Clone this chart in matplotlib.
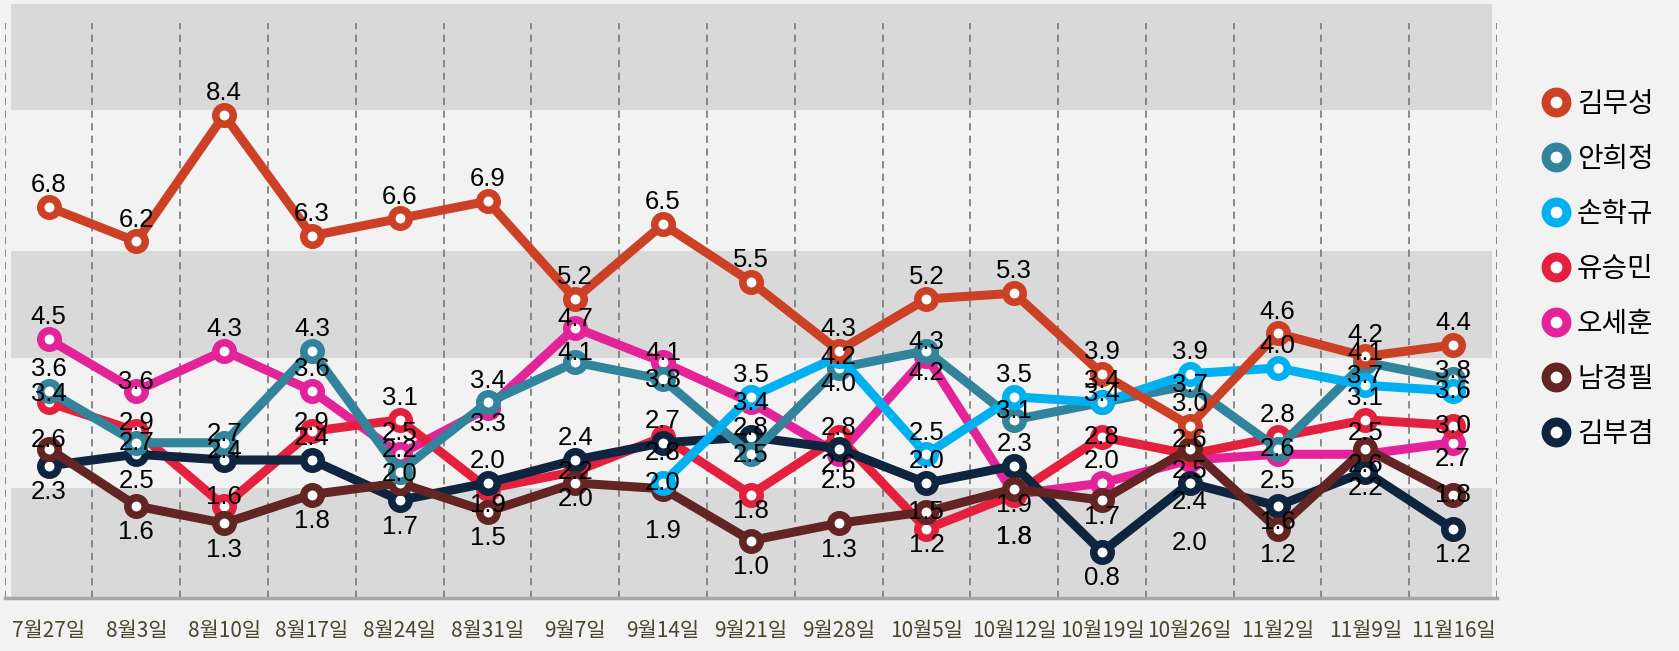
import matplotlib
matplotlib.use('Agg')
import matplotlib.pyplot as plt
from matplotlib.lines import Line2D
import numpy as np

plt.rcParams['font.family'] = ['Noto Sans CJK KR', 'DejaVu Sans']

dates = ['7월27일', '8월3일', '8월10일', '8월17일', '8월24일', '8월31일', '9월7일',
         '9월14일', '9월21일', '9월28일', '10월5일', '10월12일', '10월19일',
         '10월26일', '11월2일', '11월9일', '11월16일']

names = ['김무성', '안희정', '손학규', '유승민', '오세훈', '남경필', '김부겸']

kim_musung = [6.8, 6.2, 8.4, 6.3, 6.6, 6.9, 5.2, 6.5, 5.5, 4.3, 5.2, 5.3, 3.9, 3.0, 4.6, 4.2, 4.4]
ahn_heejung = [3.6, 2.7, 2.7, 4.3, 2.2, 3.4, 4.1, 3.8, 2.5, 4.0, 4.3, 3.1, 3.4, 3.7, 2.6, 4.1, 3.8]
son_hakkyu = [None, None, None, None, None, None, None, 2.0, 3.5, 4.2, 2.5, 3.5, 3.4, 3.9, 4.0, 3.7, 3.6]
yoo_seungmin = [3.4, 2.9, 1.6, 2.9, 3.1, 1.9, 2.2, 2.8, 1.8, 2.8, 1.2, 1.8, 2.8, 2.5, 2.8, 3.1, 3.0]
oh_sehoon = [4.5, 3.6, 4.3, 3.6, 2.5, 3.3, 4.7, 4.1, 3.4, 2.5, 4.2, 1.8, 2.0, 2.4, 2.5, 2.5, 2.7]
nam_kyungpil = [2.6, 1.6, 1.3, 1.8, 2.0, 1.5, 2.0, 1.9, 1.0, 1.3, 1.5, 1.9, 1.7, 2.6, 1.2, 2.6, 1.8]
kim_bookyum = [2.3, 2.5, 2.4, 2.4, 1.7, 2.0, 2.4, 2.7, 2.8, 2.6, 2.0, 2.3, 0.8, 2.0, 1.6, 2.2, 1.2]

series = [kim_musung, ahn_heejung, son_hakkyu, yoo_seungmin, oh_sehoon, nam_kyungpil, kim_bookyum]
colors = ['#CC4125', '#31849B', '#00B0F0', '#E3213F', '#E2239A', '#632523', '#0F243E']
zorders = [9, 7, 8, 4, 3, 6, 5]

# label placement codes per point (A well above, a above, c on, b below, B well below, D/E far below)
label_codes = ['AAAAAAAAAAAAAAAAA',
               'AcaAAAaccbaaAccaa',
               '-------cAcAAaAAac',
               'aaaaAbcbbabDcbAAc',
               'AaAAAbaacBbDADBAb',
               'aBBBaBbDBBcbbaBbc',
               'BBaABAAAabAABEbbB']
code_px = {'A': -24, 'a': -11, 'c': -2, 'b': 14, 'B': 24, 'D': 40, 'E': 58, '-': 0}

fig = plt.figure(figsize=(16.79, 6.51), dpi=100, facecolor='#F2F2F2')
ax = fig.add_axes([0.0028, 0.0814, 0.8888, 0.8833])
ax.set_facecolor('#F2F2F2')
ax.set_xlim(-0.5, 16.5)
ax.set_ylim(0, 10)

# background bands
band_edges = [0, 1.92, 4.18, 6.04, 8.48, 10.33]
for i in range(len(band_edges) - 1):
    if i % 2 == 0:
        ax.axhspan(band_edges[i], band_edges[i + 1], xmin=0.004, xmax=0.9966,
                   color='#D9D9D9', lw=0, zorder=0, clip_on=False)

# dashed vertical grid lines at category boundaries
for xb in np.arange(-0.5, len(dates), 1.0):
    ax.axvline(xb, color='#808080', lw=1.3, ls=(0, (4, 3)), zorder=1)

ax.axhline(0, color='#A6A6A6', lw=2.5, zorder=2, clip_on=False)

x = np.arange(len(dates))
for vals, c, z, codes in zip(series, colors, zorders, label_codes):
    y = np.array([np.nan if v is None else v for v in vals], dtype=float)
    ax.plot(x, y, color=c, lw=6.5, marker='o', ms=12.6, mfc='white', mec=c,
            mew=5.4, zorder=z, clip_on=False)
    for xi, v, code in zip(x, y, codes):
        if np.isnan(v):
            continue
        off = code_px[code]
        ax.annotate(f'{v:.1f}', (xi, v), xytext=(0, -(off + 9.25) * 0.72),
                    textcoords='offset points', ha='center', va='baseline',
                    fontsize=18.5, family='Liberation Sans', color='black',
                    zorder=20)

ax.set_xticks(x)
ax.set_xticklabels(dates, fontsize=15, color='#4A452A')
ax.tick_params(axis='x', length=0, pad=16)
ax.set_yticks([])
for s in ax.spines.values():
    s.set_visible(False)

handles = [Line2D([], [], ls='none', marker='o', ms=15, mfc='white', mec=c, mew=6.5)
           for c in colors]
fig.legend(handles, names, loc='upper left', bbox_to_anchor=(0.9184, 0.863),
           frameon=False, fontsize=20, labelspacing=0.9, handletextpad=0.26,
           handlelength=1.0, borderpad=0, borderaxespad=0)

fig.savefig('out.png', dpi=100, facecolor=fig.get_facecolor())
